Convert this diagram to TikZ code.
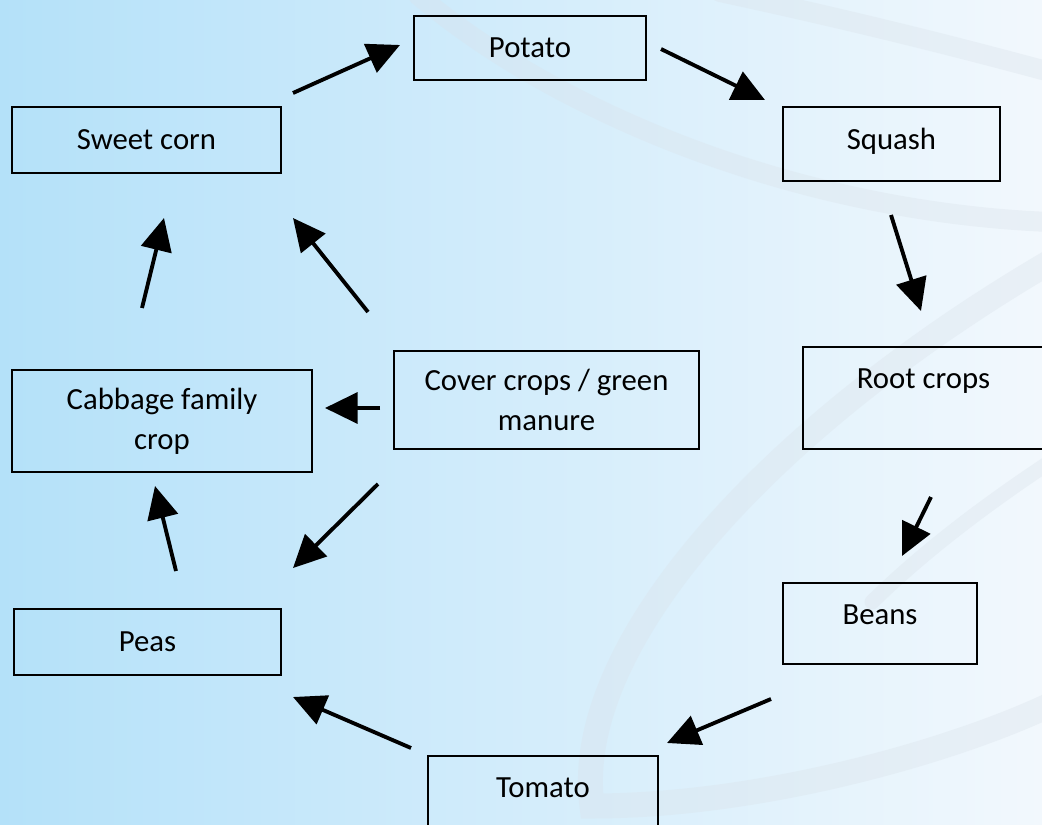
\documentclass[tikz,border=0pt]{standalone}
\usepackage{fontspec}
\setmainfont{Carlito}
\usepackage{tikz}
\usetikzlibrary{arrows.meta}
\usepackage{xcolor}
\definecolor{bgleft}{RGB}{180,225,249}
\definecolor{bgright}{RGB}{242,248,253}
\definecolor{swgray}{RGB}{218,226,234}
\tikzset{
  crop/.style={
    rectangle, draw=black, line width=1.1pt,
    inner sep=0pt, align=center,
    font=\fontsize{17.5}{22.7}\selectfont
  },
  swoosh/.style={
    draw=swgray, line width=#1, line cap=round, opacity=0.35
  },
  swoosh/.default=0.4cm,
  arr/.style={-{Triangle[length=18.5pt,width=17.5pt]}, line width=2.2pt, color=black}
}

\begin{document}
\begin{tikzpicture}[x=0.02cm, y=-0.02cm]

    %% ---- background --------------------------------------------------
    \useasboundingbox (0,0) rectangle (1042,825);
    \shade[left color=bgleft, right color=bgright] (0,0) rectangle (1042,825);
    \begin{scope}
      \clip (0,0) rectangle (1042,825);
      \draw[swoosh] (418,-5) .. controls (560,115) and (800,212) .. (1050,222);
      \draw[swoosh] (720,-8) .. controls (850,20) and (950,45) .. (1050,72);
      \draw[swoosh=0.5cm] (1050,262) .. controls (780,420) and (570,640) .. (592,806)
                    .. controls (760,806) and (950,752) .. (1050,705);
      \draw[swoosh=0.3cm] (872,602) .. controls (930,545) and (1000,495) .. (1050,462);
    \end{scope}

    %% ---- crop boxes ---------------------------------------------------
    \node[crop, minimum width=4.64cm, minimum height=1.28cm] (potato) at (530,48) {Potato};
    \node[crop, minimum width=5.38cm, minimum height=1.32cm] (corn)   at (146.5,140) {Sweet corn};
    \node[crop, minimum width=4.34cm, minimum height=1.48cm, text depth=0.2cm]
      (squash) at (891.5,144) {Squash};
    \node[crop, minimum width=6.0cm, minimum height=2.04cm] (cabbage) at (162,421)
      {Cabbage family\\crop};
    \node[crop, minimum width=6.1cm, minimum height=1.96cm] (cover) at (546.5,400)
      {Cover crops / green\\manure};
    \node[crop, minimum width=4.82cm, minimum height=2.04cm, text depth=0.76cm]
      (root) at (923.5,398) {Root crops};
    \node[crop, minimum width=3.88cm, minimum height=1.62cm, text depth=0.34cm]
      (beans) at (880,623.5) {Beans};
    \node[crop, minimum width=4.6cm, minimum height=1.48cm, text depth=0.2cm]
      (tomato) at (543,793) {Tomato};
    \node[crop, minimum width=5.34cm, minimum height=1.32cm] (peas) at (147.5,642) {Peas};

    %% ---- arrow ends -----------------------------------------------------
    \coordinate (corn-out)    at (293,93);   \coordinate (potato-in)  at (400,45);
    \coordinate (potato-out)  at (661,49);   \coordinate (squash-in)  at (765,100);
    \coordinate (squash-out)  at (891,215);  \coordinate (root-in)    at (921,311);
    \coordinate (root-out)    at (931,497);  \coordinate (beans-in)   at (902,556);
    \coordinate (beans-out)   at (771,699);  \coordinate (tomato-in)  at (667,743);
    \coordinate (tomato-out)  at (411,748);  \coordinate (peas-in)    at (293,697);
    \coordinate (peas-out)    at (176,571);  \coordinate (cabbage-in) at (155,486);
    \coordinate (cabbage-out) at (142,308);  \coordinate (corn-in)    at (164,218);
    \coordinate (cover-up)    at (368,312);  \coordinate (corn-in2)   at (293,218);
    \coordinate (cover-left)  at (380,408);  \coordinate (cabbage-in2) at (325,408);
    \coordinate (cover-down)  at (378,484);  \coordinate (peas-in2)   at (293,568);

    %% ---- rotation cycle -----------------------------------------------
    \draw[arr] (corn-out)    -- (potato-in);
    \draw[arr] (potato-out)  -- (squash-in);
    \draw[arr] (squash-out)  -- (root-in);
    \draw[arr] (root-out)    -- (beans-in);
    \draw[arr] (beans-out)   -- (tomato-in);
    \draw[arr] (tomato-out)  -- (peas-in);
    \draw[arr] (peas-out)    -- (cabbage-in);
    \draw[arr] (cabbage-out) -- (corn-in);

    %% ---- cover crops feed in --------------------------------------------
    \draw[arr] (cover-up)   -- (corn-in2);
    \draw[arr] (cover-left) -- (cabbage-in2);
    \draw[arr] (cover-down) -- (peas-in2);

\end{tikzpicture}
\end{document}
